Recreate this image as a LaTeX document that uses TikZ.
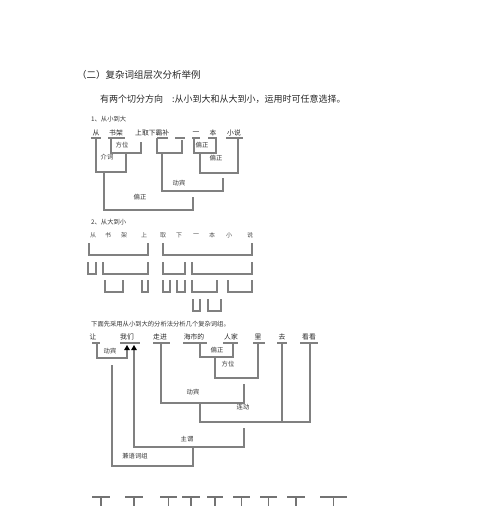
\documentclass[tikz,border=0pt]{standalone}
\usepackage{fontspec}
\newfontfamily\cjk{Noto Sans CJK SC}
\usetikzlibrary{arrows.meta}
\newcommand\myU[4]{\draw[ln] (#1,#3) -- (#1,#4) -- (#2,#4) -- (#2,#3);}
\newcommand\myT[2]{\draw[bt] (#1,497) -- (#2,497); \draw[bt] ({(#1+#2)/2},497) -- ({(#1+#2)/2},506);}
\begin{document}
\begin{tikzpicture}[x=1pt,y=-1pt,
 ln/.style={draw=black!50,line width=1.1pt},
 bt/.style={draw=black!55,line width=1.6pt},
 ttl/.style={font=\cjk\fontsize{9.5}{9.5}\selectfont,inner sep=0pt,text=black!85},
 wd/.style={font=\cjk\fontsize{6.8}{6.8}\selectfont,inner sep=0pt,text=black!85},
 lb/.style={font=\cjk\fontsize{6.3}{6.3}\selectfont,inner sep=0pt,text=black!80},
 ch/.style={font=\cjk\fontsize{6}{6}\selectfont,inner sep=0pt,text=black!70},
 tip/.style={-{Triangle[width=5.5pt,length=5pt,fill=black,color=black]}}]
\useasboundingbox (0,0) rectangle (491,506);

% titles
\node[ttl,anchor=west] (t1) at (77,75) {（二）复杂词组层次分析举例};
\node[ttl,anchor=west,font=\cjk\fontsize{9}{9}\selectfont] (t2) at (100,99) {有两个切分方向\hspace{9pt}:从小到大和从大到小，运用时可任意选择。};

% ---------- section 1
\node[lb,anchor=west] (s1) at (91,119) {1、从小到大};
\node[wd] (a1) at (96,133) {从};
\node[wd] (a2) at (116,133) {书架};
\node[wd,anchor=west] (a3) at (135,133) {上取下霸补};
\node[wd] (a4) at (196,133) {一};
\node[wd] (a5) at (213,133) {本};
\node[wd] (a6) at (234,133) {小说};

\draw[ln] (91,138) -- (101,138);
\draw[ln] (108,138) -- (125,138);
\draw[ln] (157,138) -- (168,138);
\draw[ln] (175,138) -- (185,138);
\draw[ln] (192,138) -- (200,138);
\draw[ln] (208,138) -- (217,138);
\draw[ln] (226,138) -- (243,138);

\draw[ln] (111,138) -- (111,153) -- (141,153) -- (141,142);
\node[lb] (l1) at (122,145) {方位};
\draw[ln] (96,138) -- (96,172) -- (126,172) -- (126,153);
\node[lb] (l2) at (107,157) {介词};
\draw[ln] (157,138) -- (157,153) -- (182,153) -- (182,140);
\draw[ln] (162,153) -- (162,191) -- (223,191) -- (223,178);
\node[lb] (l3) at (179,183) {动宾};
\draw[ln] (194,138) -- (194,153) -- (216,153) -- (216,138);
\node[lb] (l4) at (202,145) {偏正};
\draw[ln] (200,153) -- (200,173) -- (238,173) -- (238,138);
\node[lb] (l5) at (216,158) {偏正};
\draw[ln] (104,172) -- (104,210) -- (193,210) -- (193,197);
\node[lb] (l6) at (140,197) {偏正};

% ---------- section 2
\node[lb,anchor=west] (s2) at (91,222) {2、从大到小};
\node[ch] (b1) at (93,235) {从};
\node[ch] (b2) at (108,235) {书};
\node[ch] (b3) at (124,235) {架};
\node[ch] (b4) at (144,235) {上};
\node[ch] (b5) at (163,235) {取};
\node[ch] (b6) at (179,235) {下};
\node[ch] (b7) at (196,235) {一};
\node[ch] (b8) at (212,235) {本};
\node[ch] (b9) at (229,235) {小};
\node[ch] (b10) at (250,235) {说};

\myU{89}{148}{243}{255}
\myU{163}{252}{243}{255}
\myU{88}{96}{262}{274}
\myU{103}{148}{262}{274}
\myU{163}{185}{262}{274}
\myU{192}{252}{262}{274}
\myU{105}{123}{280}{292}
\myU{142}{148}{280}{292}
\myU{163}{170}{280}{292}
\myU{177}{185}{280}{292}
\myU{192}{217}{280}{292}
\myU{228}{252}{280}{292}
\myU{193}{200}{299}{311}
\myU{208}{221}{299}{311}

% ---------- section 3
\node[lb,anchor=west] (s3) at (91,324) {下面先采用从小到大的分析法分析几个复杂词组。};
\node[wd] (c1) at (93,337) {让};
\node[wd] (c2) at (127,337) {我们};
\node[wd] (c3) at (160,337) {走进};
\node[wd] (c4) at (194,337) {海市的};
\node[wd] (c5) at (231,337) {人家};
\node[wd] (c6) at (258,337) {里};
\node[wd] (c7) at (282,337) {去};
\node[wd] (c8) at (309,337) {看看};

\draw[ln] (92,343) -- (100,343);
\draw[ln] (120,343) -- (140,343);
\draw[ln] (153,343) -- (170,343);
\draw[ln] (183,343) -- (207,343);
\draw[ln] (223,343) -- (238,343);
\draw[ln] (253,343) -- (265,343);
\draw[ln] (277,343) -- (287,343);
\draw[ln] (300,343) -- (318,343);

\draw[ln,tip] (97,343) -- (97,358) -- (127,358) -- (127,345);
\node[lb] (d1) at (110,351) {动宾};
\draw[ln,tip] (244,428) -- (244,447) -- (134,447) -- (134,345);
\node[lb] (d2) at (187,439) {主谓};
\draw[ln] (112,365) -- (112,466) -- (193,466) -- (193,448);
\node[lb] (d3) at (135,456) {兼语词组};
\draw[ln] (161,343) -- (161,403) -- (244,403) -- (244,384);
\node[lb] (d4) at (193,392) {动宾};
\draw[ln] (200,343) -- (200,357) -- (233,357) -- (233,343);
\node[lb] (d5) at (217,350) {偏正};
\draw[ln] (215,357) -- (215,378) -- (258,378) -- (258,343);
\node[lb] (d6) at (228,364) {方位};
\draw[ln] (200,403) -- (200,422) -- (310,422) -- (310,343);
\draw[ln] (282,343) -- (282,422);
\node[lb] (d7) at (243,407) {连动};

% ---------- cut-off glyph tops at the bottom
\myT{92}{110}
\myT{125}{143}
\myT{160}{177}
\myT{182}{200}
\myT{207}{223}
\myT{233}{250}
\myT{260}{277}
\myT{287}{305}
\myT{320}{347}
\end{tikzpicture}
\end{document}
